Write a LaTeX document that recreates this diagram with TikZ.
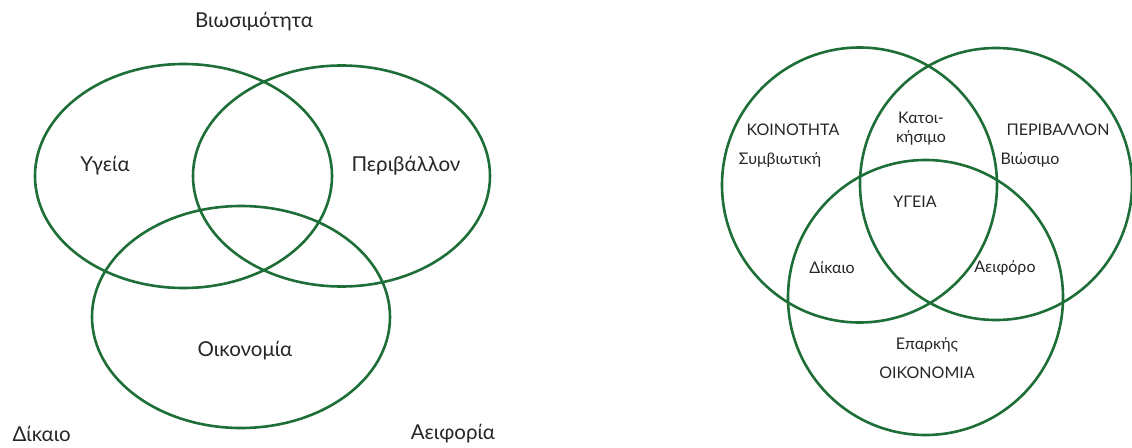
\documentclass[tikz,border=0pt]{standalone}
\usepackage{fontspec}
\setmainfont{Lato}
\usetikzlibrary{shapes.geometric}
\definecolor{venngreen}{RGB}{30,110,55}

\begin{document}
\begin{tikzpicture}[
  x=1pt, y=-1pt,
  ring/.style={draw=venngreen, line width=2.6pt, ellipse, inner sep=0pt},
  bigtxt/.style={font=\fontsize{20.5}{24}\selectfont, text=black!85},
  smalltxt/.style={font=\fontsize{16}{19}\selectfont, text=black!85, align=center}
]
\useasboundingbox (0,0) rectangle (1132,447);

% left diagram
\node[ring, minimum width=297, minimum height=224] (health) at (183.5,176) {};
\node[ring, minimum width=297, minimum height=221] (environ) at (341.5,176) {};
\node[ring, minimum width=298, minimum height=222] (economy) at (241,317) {};

\node[bigtxt] (viab) at (254,22) {Βιωσιμότητα};
\node[bigtxt] (hlab) at (105,166) {Υγεία};
\node[bigtxt] (elab) at (406,166) {Περιβάλλον};
\node[bigtxt] (olab) at (245,351) {Οικονομία};
\node[bigtxt, anchor=west] (fair) at (9,434) {Δίκαιο};
\node[bigtxt] (sust) at (453,434) {Αειφορία};

% right diagram
\node[ring, circle, minimum size=275] (comm) at (859.5,185) {};
\node[ring, circle, minimum size=272] (envr) at (996,184) {};
\node[ring, circle, minimum size=275] (econ) at (925.5,297.5) {};

\node[smalltxt] (commlab) at (793,130) {ΚΟΙΝΟΤΗΤΑ};
\node[smalltxt] (symb) at (780,160) {Συμβιωτική};
\node[smalltxt] (habit) at (921,129) {Κατοι-\\κήσιμο};
\node[smalltxt] (envrlab) at (1058,130) {ΠΕΡΙΒΑΛΛΟΝ};
\node[smalltxt] (viable) at (1030,160) {Βιώσιμο};
\node[smalltxt] (hcore) at (915,202) {ΥΓΕΙΑ};
\node[smalltxt] (just) at (832,268) {Δίκαιο};
\node[smalltxt] (dur) at (1005,268) {Αειφόρο};
\node[smalltxt] (suff) at (927,345) {Επαρκής};
\node[smalltxt] (econlab) at (927,373) {ΟΙΚΟΝΟΜΙΑ};
\end{tikzpicture}
\end{document}
